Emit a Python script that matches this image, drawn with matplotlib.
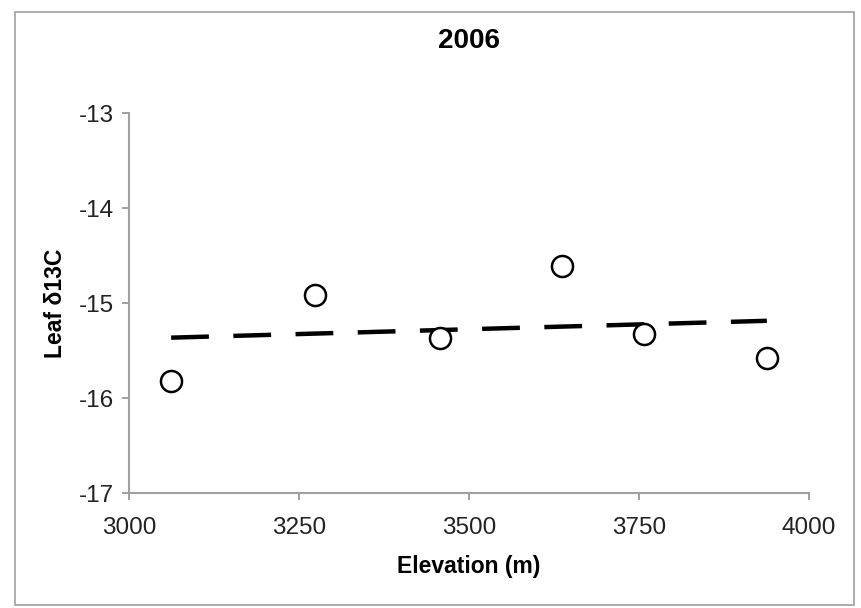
#!/usr/bin/env python3
"""Leaf d13C against elevation, 2006 samples."""

import numpy as np
import matplotlib
matplotlib.use('Agg')
import matplotlib.pyplot as plt
from matplotlib.patches import Rectangle

plt.rcParams['font.family'] = ['Liberation Sans', 'DejaVu Sans']
plt.rcParams['axes.unicode_minus'] = False

# Data
elevation = [3062, 3273, 3457, 3637, 3757, 3938]
leaf_d13c = [-15.82, -14.92, -15.37, -14.61, -15.33, -15.58]

x_ticks = [3000, 3250, 3500, 3750, 4000]
y_ticks = [-17, -16, -15, -14, -13]

fig = plt.figure(figsize=(8.61, 6.08), dpi=100)
ax = fig.add_axes([0.1498, 0.1891, 0.7898, 0.625])

# outer chart frame
fig.patches.append(Rectangle((15 / 861, 3 / 608), 839 / 861, 593 / 608,
                             transform=fig.transFigure, fill=False,
                             edgecolor='#a0a0a0', linewidth=1.2))

# linear trend
slope, intercept = np.polyfit(elevation, leaf_d13c, 1)
xs = np.array([min(elevation), max(elevation)])
ax.plot(xs, slope * xs + intercept, color='black', linewidth=3.2,
        dashes=(8.5, 5.5), dash_capstyle='butt', zorder=2)

ax.scatter(elevation, leaf_d13c, s=230, facecolors='white',
           edgecolors='black', linewidths=1.8, zorder=3)

ax.set_xlim(3000, 4000)
ax.set_ylim(-17, -13)
ax.set_xticks(x_ticks)
ax.set_yticks(y_ticks)
ax.tick_params(labelsize=17.5, length=5, color='#909090', width=1.2,
               labelcolor='#222222', pad=6)
ax.tick_params(axis='x', pad=12)

for side in ['top', 'right']:
    ax.spines[side].set_visible(False)
for side in ['left', 'bottom']:
    ax.spines[side].set_color('#a0a0a0')
    ax.spines[side].set_linewidth(1.5)

ax.set_title('2006', fontsize=20, fontweight='bold', pad=47)
ax.set_xlabel('Elevation (m)', fontsize=16.5, fontweight='bold', labelpad=12)
ax.set_ylabel('Leaf δ13C', fontsize=16.5, fontweight='bold', labelpad=8)

fig.savefig('out.png', dpi=100)
